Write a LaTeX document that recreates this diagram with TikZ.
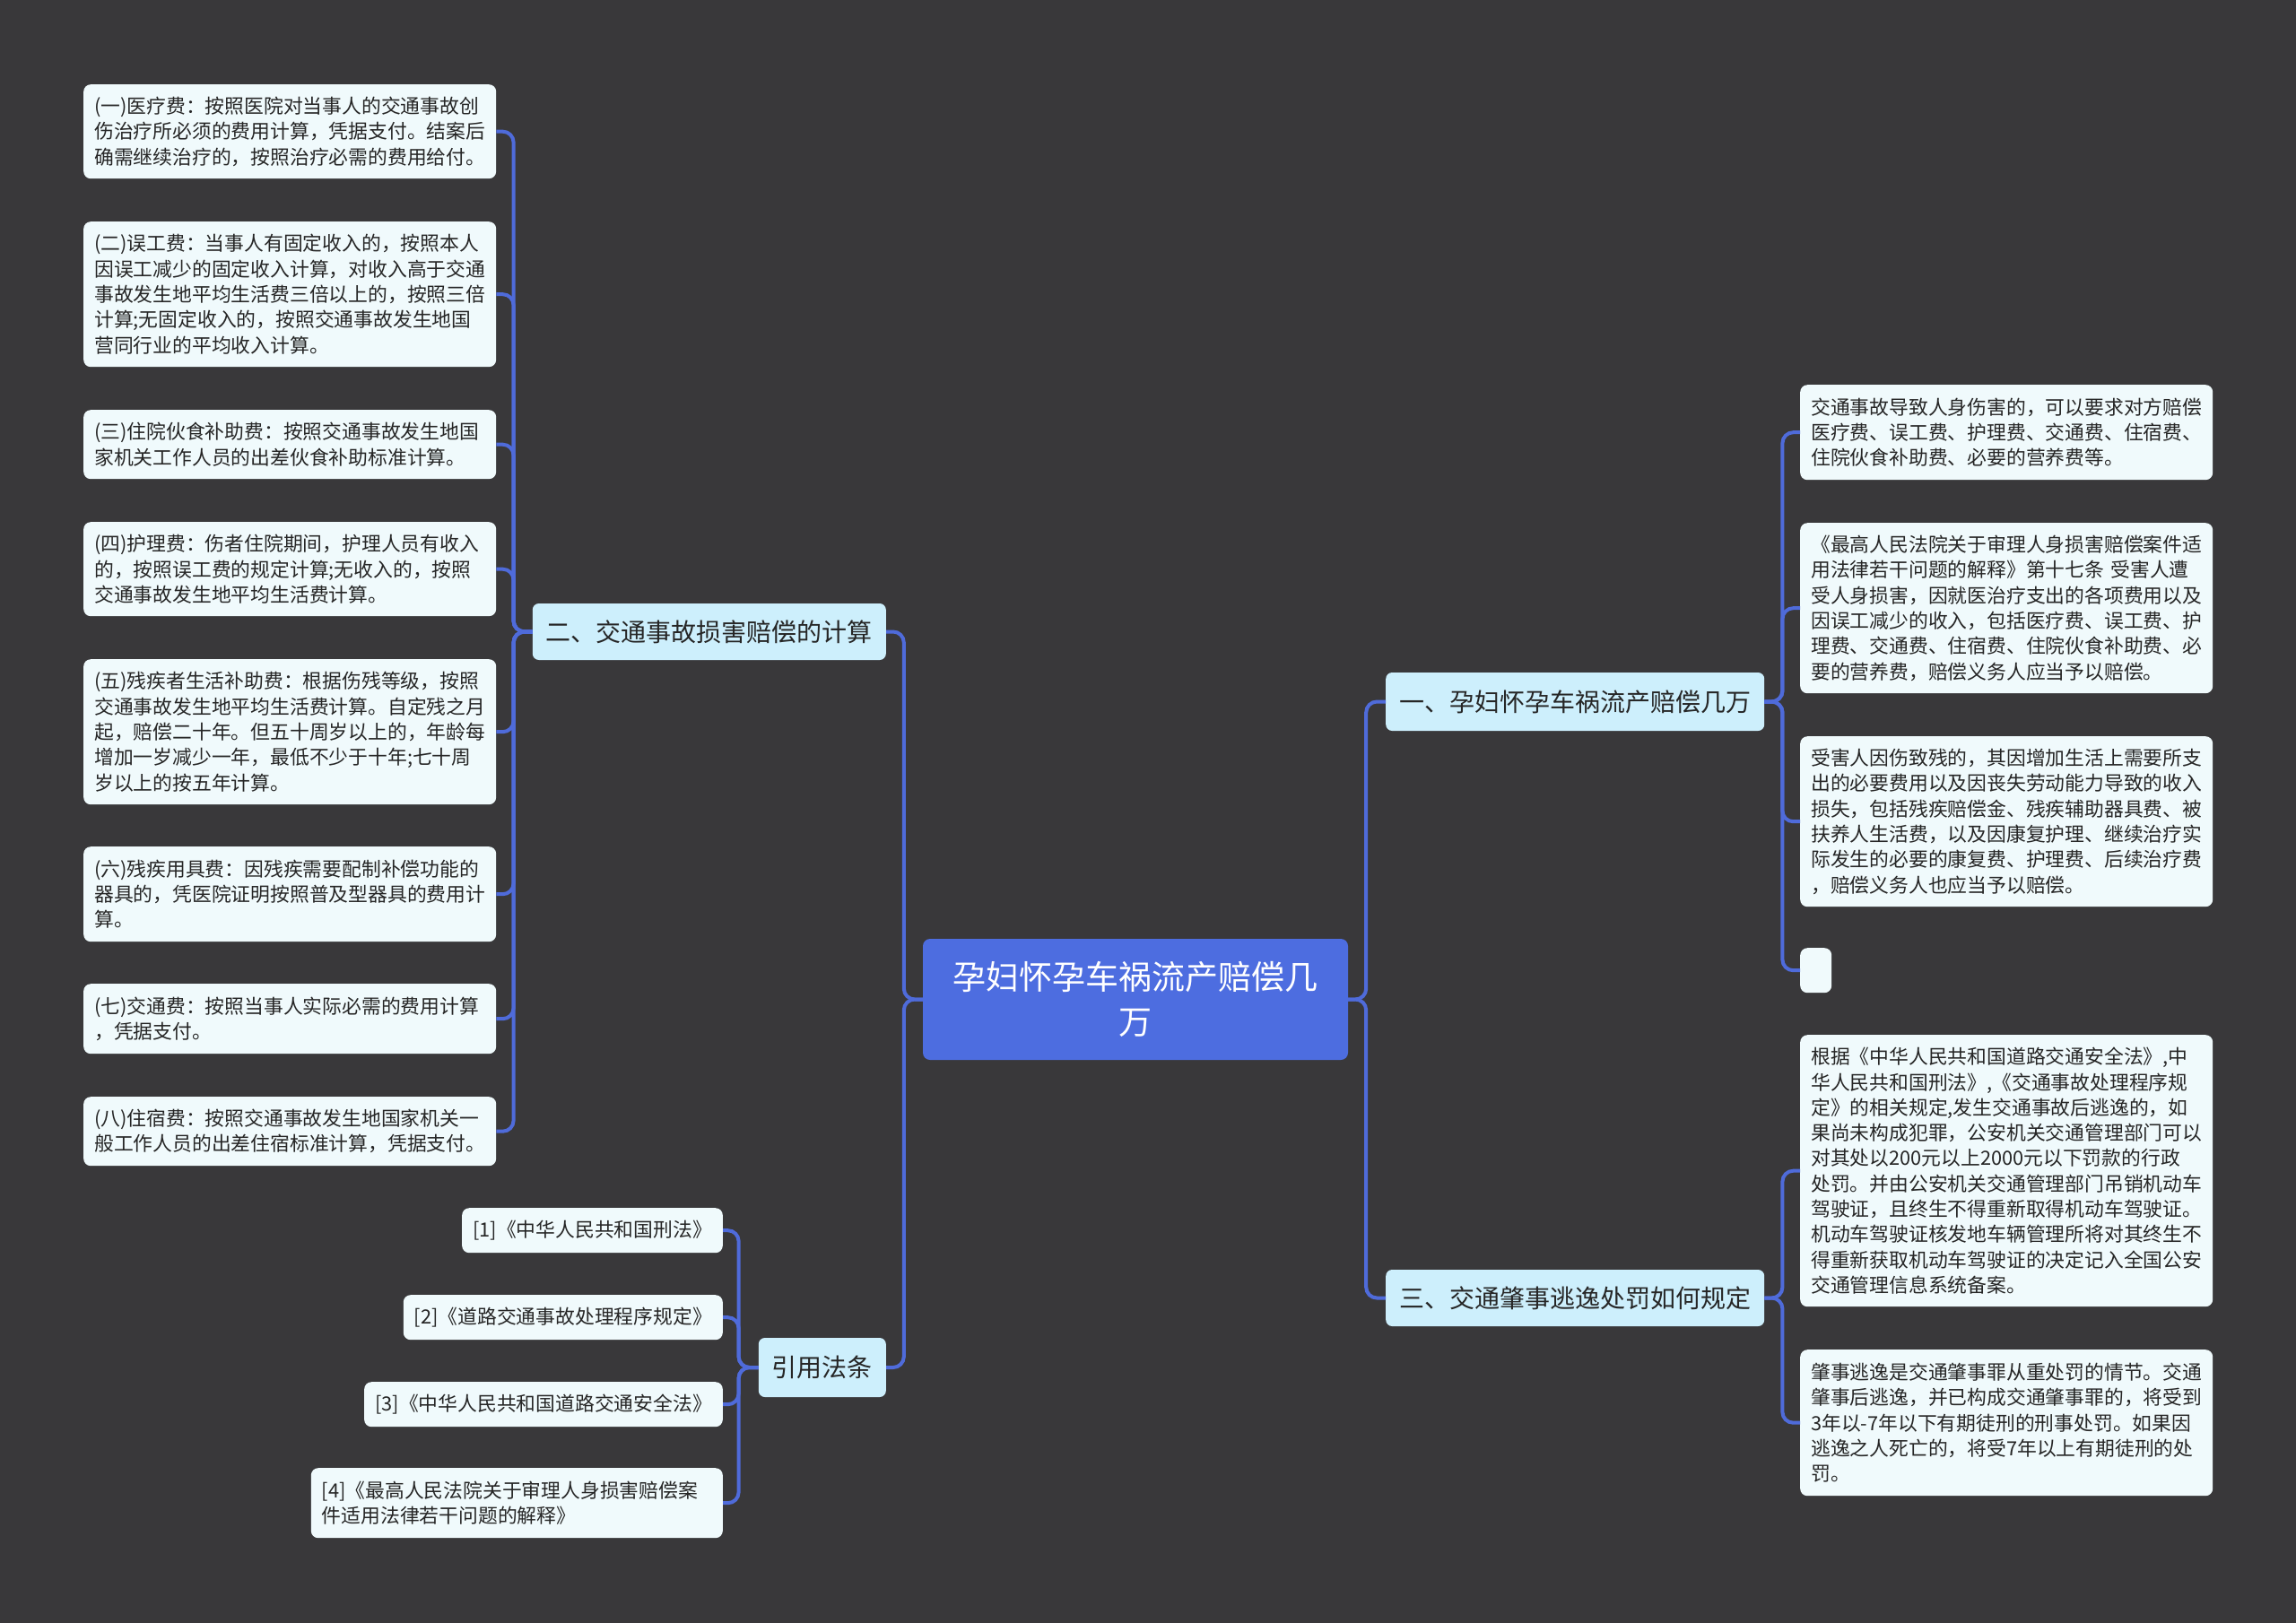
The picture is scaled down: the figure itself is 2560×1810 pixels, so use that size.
\documentclass[tikz,border=0pt]{standalone}
\usepackage{fontspec}
\setmainfont{Noto Sans CJK SC}
\definecolor{bgc}{HTML}{39383A}
\definecolor{leafc}{HTML}{F0FAFC}
\definecolor{midc}{HTML}{CDEFFC}
\definecolor{rootc}{HTML}{4D6DE0}
\definecolor{linec}{HTML}{4F6BDA}
\definecolor{txtc}{HTML}{262626}
\begin{document}
\begin{tikzpicture}[x=1pt,y=-1pt,
  leaf/.style={fill=leafc, rounded corners=8pt, text=txtc,
    font=\fontsize{21.8pt}{28.3pt}\selectfont, align=left, text width=436pt,
    inner xsep=12pt, inner ysep=4pt, anchor=north west},
  refbox/.style={fill=leafc, rounded corners=8pt, text=txtc,
    font=\fontsize{21.8pt}{28.3pt}\selectfont, align=center,
    inner xsep=12pt, inner ysep=4pt, anchor=north east},
  mid/.style={fill=midc, rounded corners=7pt, text=txtc,
    font=\fontsize{28pt}{34pt}\selectfont, inner xsep=15pt, inner ysep=4pt},
  root/.style={fill=rootc, rounded corners=8pt, text=white,
    font=\fontsize{37pt}{50pt}\selectfont, align=center, text width=420pt,
    minimum width=474pt, minimum height=135pt},
  conn/.style={draw=linec, line width=4pt, rounded corners=12pt}
]
\fill[bgc] (0,0) rectangle (2560,1810);
\useasboundingbox (0,0) rectangle (2560,1810);

% root
\node[root] (c) at (1266,1114.5) {孕妇怀孕车祸流产赔偿几\\万};

% mid-level
\node[mid, anchor=east, minimum width=394pt, minimum height=63pt] (m2) at (988,704.5) {二、交通事故损害赔偿的计算};
\node[mid, anchor=east, minimum width=141pt, minimum height=66pt] (mref) at (988,1525) {引用法条};
\node[mid, anchor=west, minimum width=421pt, minimum height=65pt] (m1) at (1545,782.5) {一、孕妇怀孕车祸流产赔偿几万};
\node[mid, anchor=west, minimum width=421pt, minimum height=63pt] (m3) at (1545,1447.5) {三、交通肇事逃逸处罚如何规定};

% left leaves
\node[leaf, minimum height=105pt] (l1) at (93,94) {(一)医疗费：按照医院对当事人的交通事故创\\伤治疗所必须的费用计算，凭据支付。结案后\\确需继续治疗的，按照治疗必需的费用给付。};
\node[leaf, minimum height=162pt] (l2) at (93,247) {(二)误工费：当事人有固定收入的，按照本人\\因误工减少的固定收入计算，对收入高于交通\\事故发生地平均生活费三倍以上的，按照三倍\\计算;无固定收入的，按照交通事故发生地国\\营同行业的平均收入计算。};
\node[leaf, minimum height=77pt] (l3) at (93,457) {(三)住院伙食补助费：按照交通事故发生地国\\家机关工作人员的出差伙食补助标准计算。};
\node[leaf, minimum height=105pt] (l4) at (93,582) {(四)护理费：伤者住院期间，护理人员有收入\\的，按照误工费的规定计算;无收入的，按照\\交通事故发生地平均生活费计算。};
\node[leaf, minimum height=162pt] (l5) at (93,735) {(五)残疾者生活补助费：根据伤残等级，按照\\交通事故发生地平均生活费计算。自定残之月\\起，赔偿二十年。但五十周岁以上的，年龄每\\增加一岁减少一年，最低不少于十年;七十周\\岁以上的按五年计算。};
\node[leaf, minimum height=106pt] (l6) at (93,944) {(六)残疾用具费：因残疾需要配制补偿功能的\\器具的，凭医院证明按照普及型器具的费用计\\算。};
\node[leaf, minimum height=78pt] (l7) at (93,1097) {(七)交通费：按照当事人实际必需的费用计算\\，凭据支付。};
\node[leaf, minimum height=77pt] (l8) at (93,1223) {(八)住宿费：按照交通事故发生地国家机关一\\般工作人员的出差住宿标准计算，凭据支付。};

% references
\node[refbox, minimum width=289pt, minimum height=50pt] (f1) at (806,1347) {[1]《中华人民共和国刑法》};
\node[refbox, minimum width=355pt, minimum height=50pt] (f2) at (806,1444) {[2]《道路交通事故处理程序规定》};
\node[refbox, minimum width=399pt, minimum height=50pt] (f3) at (806,1541) {[3]《中华人民共和国道路交通安全法》};
\node[refbox, align=left, text width=435pt, minimum height=78pt] (f4) at (806,1637) {[4]《最高人民法院关于审理人身损害赔偿案\\件适用法律若干问题的解释》};

% right leaves
\node[leaf, minimum height=106pt] (r1) at (2007,429) {交通事故导致人身伤害的，可以要求对方赔偿\\医疗费、误工费、护理费、交通费、住宿费、\\住院伙食补助费、必要的营养费等。};
\node[leaf, minimum height=190pt] (r2) at (2007,583) {《最高人民法院关于审理人身损害赔偿案件适\\用法律若干问题的解释》第十七条 受害人遭\\受人身损害，因就医治疗支出的各项费用以及\\因误工减少的收入，包括医疗费、误工费、护\\理费、交通费、住宿费、住院伙食补助费、必\\要的营养费，赔偿义务人应当予以赔偿。};
\node[leaf, minimum height=190pt] (r3) at (2007,821) {受害人因伤致残的，其因增加生活上需要所支\\出的必要费用以及因丧失劳动能力导致的收入\\损失，包括残疾赔偿金、残疾辅助器具费、被\\扶养人生活费，以及因康复护理、继续治疗实\\际发生的必要的康复费、护理费、后续治疗费\\，赔偿义务人也应当予以赔偿。};
\node[fill=leafc, rounded corners=8pt, anchor=north west, minimum width=35pt, minimum height=50pt, inner sep=0pt] (r0) at (2007,1057) {};
\node[leaf, minimum height=303pt] (r4) at (2007,1154) {根据《中华人民共和国道路交通安全法》,中\\华人民共和国刑法》,《交通事故处理程序规\\定》的相关规定,发生交通事故后逃逸的，如\\果尚未构成犯罪，公安机关交通管理部门可以\\对其处以200元以上2000元以下罚款的行政\\处罚。并由公安机关交通管理部门吊销机动车\\驾驶证，且终生不得重新取得机动车驾驶证。\\机动车驾驶证核发地车辆管理所将对其终生不\\得重新获取机动车驾驶证的决定记入全国公安\\交通管理信息系统备案。};
\node[leaf, minimum height=163pt] (r5) at (2007,1505) {肇事逃逸是交通肇事罪从重处罚的情节。交通\\肇事后逃逸，并已构成交通肇事罪的，将受到\\3年以-7年以下有期徒刑的刑事处罚。如果因\\逃逸之人死亡的，将受7年以上有期徒刑的处\\罚。};

% connectors
\foreach \n in {m2,mref} \draw[conn] (c.west) -- ++(-21,0) |- (\n.east);
\foreach \n in {m1,m3} \draw[conn] (c.east) -- ++(20,0) |- (\n.west);
\foreach \n in {l1,l2,l3,l4,l5,l6,l7,l8} \draw[conn] (m2.west) -- ++(-21,0) |- (\n.east);
\foreach \n in {f1,f2,f3,f4} \draw[conn] (mref.west) -- ++(-22,0) |- (\n.east);
\foreach \n in {r1,r2,r3,r0} \draw[conn] (m1.east) -- ++(20,0) |- (\n.west);
\foreach \n in {r4,r5} \draw[conn] (m3.east) -- ++(20,0) |- (\n.west);
\end{tikzpicture}
\end{document}
